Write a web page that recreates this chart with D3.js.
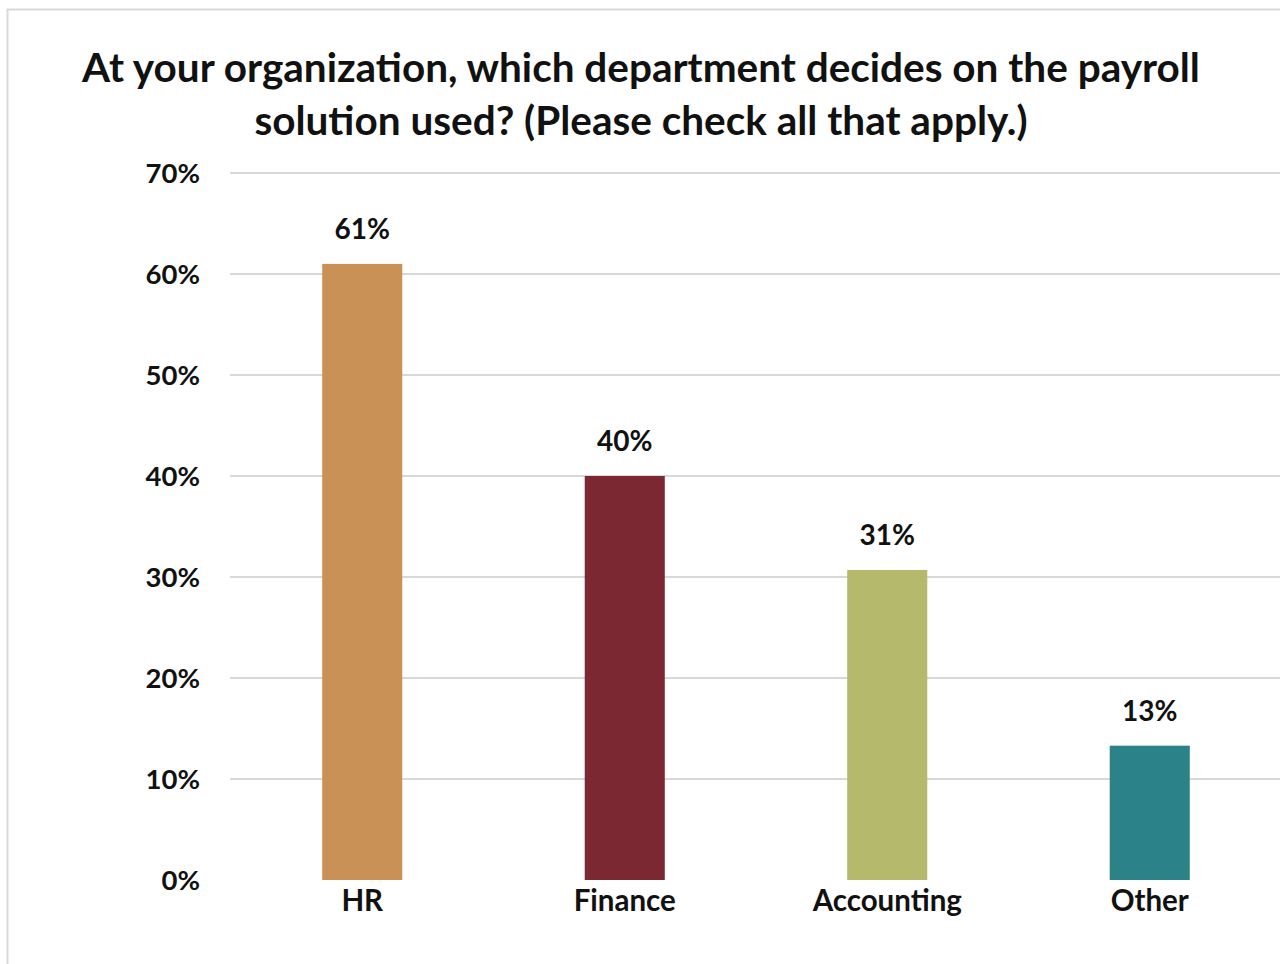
<!DOCTYPE html>
<html><head><meta charset="utf-8">
<script src="https://cdn.jsdelivr.net/npm/d3@7"></script>
<style>html,body{margin:0;padding:0;background:#fff;}svg{display:block;}</style>
</head><body>
<svg id="chart" width="1280" height="964"></svg>
<script>
const categories = ["HR", "Finance", "Accounting", "Other"];
const values = [0.61, 0.40, 0.307, 0.133];
const valueLabels = ["61%", "40%", "31%", "13%"];
const colors = ["#C99155", "#7B2832", "#B5B96B", "#2C8289"];
const yTicks = [0, 0.1, 0.2, 0.3, 0.4, 0.5, 0.6, 0.7];
const titleLines = ["At your organization, which department decides on the payroll", "solution used? (Please check all that apply.)"];

const FONT = "Lato, 'Open Sans', sans-serif";
const svg = d3.select("#chart");

svg.append("rect").attr("x", 7.5).attr("y", 9.5).attr("width", 1400).attr("height", 1200)
  .attr("fill", "#fff").attr("stroke", "#d9d9d9").attr("stroke-width", 2);

const y = d3.scaleLinear().domain([0, 0.7]).range([880, 173]);
const x = d3.scaleBand().domain(categories).range([231, 1281]).paddingInner(0.695).paddingOuter(0.3475);

// gridlines
svg.append("g").selectAll("line").data(yTicks.filter(d => d > 0)).join("line")
  .attr("x1", 230).attr("x2", 1280)
  .attr("y1", d => y(d)).attr("y2", d => y(d))
  .attr("stroke", "#d9d9d9").attr("stroke-width", 2);

// y tick labels
svg.append("g").selectAll("text").data(yTicks).join("text")
  .attr("x", 200).attr("y", d => y(d)).attr("dy", "0.35em")
  .attr("text-anchor", "end")
  .attr("font-family", FONT).attr("font-weight", 700).attr("font-size", 27.5).attr("fill", "#111")
  .text(d3.format(".0%"));

// bars
svg.append("g").selectAll("rect").data(values).join("rect")
  .attr("x", (d, i) => x(categories[i]))
  .attr("width", x.bandwidth())
  .attr("y", d => y(d))
  .attr("height", d => y(0) - y(d))
  .attr("fill", (d, i) => colors[i]);

// value labels
svg.append("g").selectAll("text").data(values).join("text")
  .attr("x", (d, i) => x(categories[i]) + x.bandwidth() / 2)
  .attr("y", d => y(d) - 25)
  .attr("text-anchor", "middle")
  .attr("font-family", FONT).attr("font-weight", 700).attr("font-size", 28).attr("fill", "#111")
  .text((d, i) => valueLabels[i]);

// category labels
svg.append("g").selectAll("text").data(categories).join("text")
  .attr("x", d => x(d) + x.bandwidth() / 2)
  .attr("y", 911)
  .attr("text-anchor", "middle")
  .attr("font-family", FONT).attr("font-weight", 700).attr("font-size", 29.5).attr("fill", "#111")
  .text(d => d);

// title
svg.append("g").selectAll("text").data(titleLines).join("text")
  .attr("x", 641).attr("y", (d, i) => 82 + i * 53)
  .attr("text-anchor", "middle")
  .attr("font-family", FONT).attr("font-weight", 700).attr("font-size", 40.5).attr("fill", "#111")
  .text(d => d);
</script>
</body></html>
